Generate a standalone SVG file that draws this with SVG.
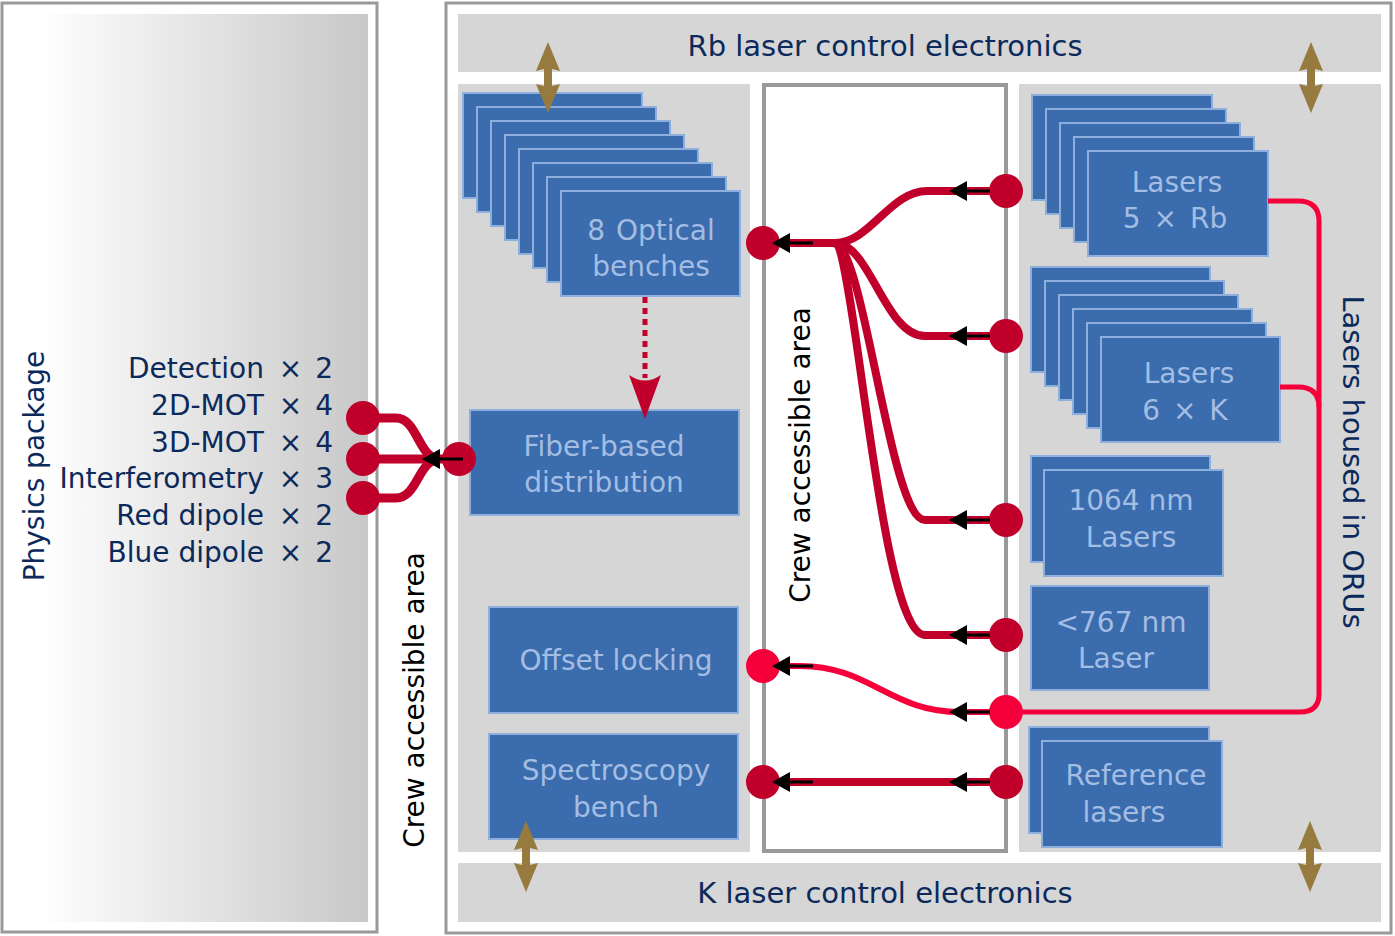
<svg xmlns="http://www.w3.org/2000/svg" width="1395" height="936" viewBox="0 0 1395 936">
<defs>
<linearGradient id="pp" x1="0" x2="1" y1="0" y2="0">
<stop offset="0" stop-color="#ffffff"/>
<stop offset="0.09" stop-color="#ffffff"/>
<stop offset="1" stop-color="#c8c8c8"/>
</linearGradient>
<path id="gold" d="M0,0 L12,29 L4,27 L4,44 L12,42 L0,71 L-12,42 L-4,44 L-4,27 L-12,29 Z"/>
<g id="barrow"><path d="M0,0 L18,-10 L18,10 Z" fill="#000"/><line x1="16" y1="0" x2="41" y2="0" stroke="#000" stroke-width="3"/></g>
</defs>
<style>
.frame{fill:#ffffff;stroke:#999999;stroke-width:3}
.panel{fill:#d6d6d6}
.box{fill:#3a6cae;stroke:#8eaedb;stroke-width:2}
.bt{font-family:"DejaVu Sans",sans-serif;font-size:28px;fill:#a3bde3;text-anchor:middle}
.nv{font-family:"DejaVu Sans",sans-serif;font-size:28px;fill:#0b2a5b}
.nl{font-family:"DejaVu Sans",sans-serif;font-size:29px;fill:#0b2a5b;text-anchor:middle}
.bk{font-family:"DejaVu Sans",sans-serif;font-size:28px;fill:#000000;text-anchor:middle}
.dr{fill:none;stroke:#c0002a;stroke-width:8}
.dl{fill:none;stroke:#c0002a;stroke-width:9}
.br{fill:none;stroke:#f5003a;stroke-width:6}
.bb{fill:none;stroke:#f5003a;stroke-width:5}
.cd{fill:#c0002a}
.cb{fill:#f5003a}
.gold{fill:#977a3e}
</style>
<rect x="0" y="0" width="1395" height="936" fill="#ffffff"/>

<g id="physics-package">
<rect class="frame" x="2" y="3" width="375" height="929"/>
<rect x="6" y="14" width="362" height="908" fill="url(#pp)"/>
<text class="nv" text-anchor="middle" transform="translate(44,466) rotate(-90)">Physics package</text>
<text class="nv" text-anchor="end" x="333" y="378">Detection <tspan dx="6">×</tspan> <tspan dx="4">2</tspan></text>
<text class="nv" text-anchor="end" x="333" y="415">2D-MOT <tspan dx="6">×</tspan> <tspan dx="4">4</tspan></text>
<text class="nv" text-anchor="end" x="333" y="452">3D-MOT <tspan dx="6">×</tspan> <tspan dx="4">4</tspan></text>
<text class="nv" text-anchor="end" x="333" y="488">Interferometry <tspan dx="6">×</tspan> <tspan dx="4">3</tspan></text>
<text class="nv" text-anchor="end" x="333" y="525">Red dipole <tspan dx="6">×</tspan> <tspan dx="4">2</tspan></text>
<text class="nv" text-anchor="end" x="333" y="562">Blue dipole <tspan dx="6">×</tspan> <tspan dx="4">2</tspan></text>
</g>

<g id="crew-area-left">
<text class="bk" transform="translate(424,700) rotate(-90)">Crew accessible area</text>
</g>

<g id="main-frame">
<rect class="frame" x="446" y="3" width="945" height="930"/>
</g>

<g id="rb-electronics">
<rect class="panel" x="458" y="14" width="923" height="58"/>
<text class="nl" x="885" y="56">Rb laser control electronics</text>
</g>

<g id="k-electronics">
<rect class="panel" x="458" y="863" width="923" height="59"/>
<text class="nl" x="885" y="903">K laser control electronics</text>
</g>

<g id="left-panel">
<rect class="panel" x="458" y="84" width="292" height="768"/>
</g>

<g id="crew-area-middle">
<rect x="764" y="85" width="242" height="766" fill="#ffffff" stroke="#999999" stroke-width="4"/>
<text class="bk" transform="translate(810,455) rotate(-90)">Crew accessible area</text>
</g>

<g id="oru-panel">
<rect class="panel" x="1019" y="84" width="362" height="768"/>
<text class="nl" transform="translate(1343,462) rotate(90)">Lasers housed in ORUs</text>
</g>

<g id="optical-benches">
<rect class="box" x="463" y="93" width="179" height="105"/>
<rect class="box" x="477" y="107" width="179" height="105"/>
<rect class="box" x="491" y="121" width="179" height="105"/>
<rect class="box" x="505" y="135" width="179" height="105"/>
<rect class="box" x="519" y="149" width="179" height="105"/>
<rect class="box" x="533" y="163" width="179" height="105"/>
<rect class="box" x="547" y="177" width="179" height="105"/>
<rect class="box" x="561" y="191" width="179" height="105"/>
<text class="bt" x="651" y="240">8 <tspan dx="2">Optical</tspan></text>
<text class="bt" x="651" y="276">benches</text>
</g>

<g id="fiber-distribution">
<rect class="box" x="470" y="410" width="269" height="105"/>
<text class="bt" x="604" y="456">Fiber-based</text>
<text class="bt" x="604" y="492">distribution</text>
</g>

<g id="offset-locking">
<rect class="box" x="489" y="607" width="249" height="106"/>
<text class="bt" x="616" y="670">Offset locking</text>
</g>

<g id="spectroscopy-bench">
<rect class="box" x="489" y="734" width="249" height="105"/>
<text class="bt" x="616" y="780">Spectroscopy</text>
<text class="bt" x="616" y="817">bench</text>
</g>

<g id="lasers-rb">
<rect class="box" x="1032" y="95" width="180" height="105"/>
<rect class="box" x="1046" y="109" width="180" height="105"/>
<rect class="box" x="1060" y="123" width="180" height="105"/>
<rect class="box" x="1074" y="137" width="180" height="105"/>
<rect class="box" x="1088" y="151" width="180" height="105"/>
<text class="bt" x="1177" y="192">Lasers</text>
<text class="bt" x="1175" y="228">5 <tspan dx="4">×</tspan> <tspan dx="4">Rb</tspan></text>
</g>

<g id="lasers-k">
<rect class="box" x="1031" y="267" width="179" height="105"/>
<rect class="box" x="1045" y="281" width="179" height="105"/>
<rect class="box" x="1059" y="295" width="179" height="105"/>
<rect class="box" x="1073" y="309" width="179" height="105"/>
<rect class="box" x="1087" y="323" width="179" height="105"/>
<rect class="box" x="1101" y="337" width="179" height="105"/>
<text class="bt" x="1189" y="383">Lasers</text>
<text class="bt" x="1185" y="420">6 <tspan dx="4">×</tspan> <tspan dx="4">K</tspan></text>
</g>

<g id="lasers-1064">
<rect class="box" x="1031" y="456" width="179" height="106"/>
<rect class="box" x="1044" y="470" width="179" height="106"/>
<text class="bt" x="1131" y="510">1064 nm</text>
<text class="bt" x="1131" y="547">Lasers</text>
</g>

<g id="laser-767">
<rect class="box" x="1031" y="586" width="178" height="104"/>
<text class="bt" x="1121" y="632">&lt;767 nm</text>
<text class="bt" x="1116" y="668">Laser</text>
</g>

<g id="reference-lasers">
<rect class="box" x="1029" y="727" width="180" height="106"/>
<rect class="box" x="1042" y="741" width="180" height="106"/>
<text class="bt" x="1136" y="785">Reference</text>
<text class="bt" x="1124" y="822">lasers</text>
</g>

<g id="gold-arrows" class="gold">
<use href="#gold" x="548" y="42"/>
<use href="#gold" x="1311" y="42"/>
<use href="#gold" x="526" y="821"/>
<use href="#gold" x="1310" y="821"/>
</g>

<g id="connectors">
<line x1="645" y1="297" x2="645" y2="378" stroke="#c0002a" stroke-width="5" stroke-dasharray="6 5"/>
<path d="M645,419 L629,375 Q645,386 661,375 Z" fill="#c0002a"/>
<path class="bb" d="M1268,201 L1298,201 Q1319,201 1319,221 L1319,694 Q1319,712 1300,712 L1006,712"/>
<path class="bb" d="M1280,387 L1298,387 Q1319,387 1319,407"/>
<path class="dr" d="M763,243 L835,243 C870,243 890,191 927,191 L1006,191"/>
<path class="dr" d="M835,243 C870,243 885,336 925,336 L1006,336"/>
<path class="dr" d="M835,243 C865,250 890,520 925,520 L1006,520"/>
<path class="dr" d="M835,243 C855,250 880,635 925,635 L1006,635"/>
<path class="dr" d="M763,782 L1006,782"/>
<path class="br" d="M1006,712 L960,712 C890,712 870,666 800,666 L763,666"/>
<path class="dl" d="M363,418 L396,418 C418,418 418,459 440,459"/>
<path class="dl" d="M363,498 L396,498 C418,498 418,459 440,459"/>
<path class="dl" d="M363,459 L459,459"/>
<circle class="cd" cx="763" cy="243" r="17"/>
<circle class="cd" cx="1006" cy="191" r="17"/>
<circle class="cd" cx="1006" cy="336" r="17"/>
<circle class="cd" cx="1006" cy="520" r="17"/>
<circle class="cd" cx="1006" cy="635" r="17"/>
<circle class="cd" cx="1006" cy="782" r="17"/>
<circle class="cd" cx="763" cy="782" r="17"/>
<circle class="cb" cx="1006" cy="712" r="17"/>
<circle class="cb" cx="763" cy="666" r="17"/>
<circle class="cd" cx="363" cy="418" r="17"/>
<circle class="cd" cx="363" cy="459" r="17"/>
<circle class="cd" cx="363" cy="498" r="17"/>
<circle class="cd" cx="459" cy="459" r="17"/>
<use href="#barrow" x="949" y="191"/>
<use href="#barrow" x="949" y="336"/>
<use href="#barrow" x="949" y="520"/>
<use href="#barrow" x="949" y="635"/>
<use href="#barrow" x="949" y="712"/>
<use href="#barrow" x="949" y="782"/>
<use href="#barrow" x="772" y="243"/>
<use href="#barrow" x="772" y="666"/>
<use href="#barrow" x="772" y="782"/>
<use href="#barrow" x="422" y="459"/>
</g>
</svg>
